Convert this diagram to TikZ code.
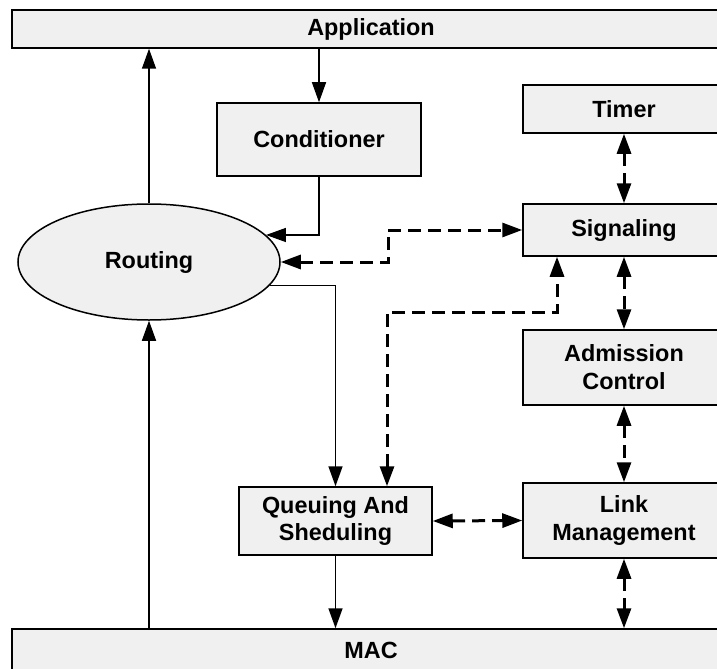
\documentclass[tikz,border=0pt]{standalone}
\usepackage{fontspec}
\setmainfont{Liberation Sans}
\usetikzlibrary{arrows.meta,calc,shapes.geometric}
\definecolor{boxgray}{HTML}{F0F0F0}
\begin{document}
\begin{tikzpicture}[x={(1bp,0bp)},y={(0bp,-1bp)},
  blk/.style={draw=black, line width=1.5bp, fill=boxgray, inner sep=0pt,
    font=\fontsize{23.5}{28}\selectfont\bfseries, align=center},
  conn/.style={line width=1.5bp, -{Triangle[length=20bp,width=14bp]}},
  dbl/.style={line width=3bp, dash pattern=on 13bp off 7bp,
    {Triangle[length=20bp,width=14bp]}-{Triangle[length=20bp,width=14bp]}}]
\useasboundingbox (0,0) rectangle (717,669);
\fill[white] (0,0) rectangle (717,669);
\clip (0,0) rectangle (717,669);

\node[blk, minimum width=718bp, minimum height=38bp] (app) at (371,29) {Application};
\node[blk, minimum width=204bp, minimum height=73bp] (cond) at (319,139.5) {Conditioner};
\node[blk, ellipse, minimum width=262bp, minimum height=116bp] (rout) at (149,262) {Routing};
\node[blk, minimum width=202bp, minimum height=48bp] (timer) at (624,109) {Timer};
\node[blk, minimum width=202bp, minimum height=52bp] (sig) at (624,230) {Signaling};
\node[blk, minimum width=202bp, minimum height=75bp] (adm) at (624,367.5) {Admission\\Control};
\node[blk, minimum width=202bp, minimum height=75bp] (link) at (624,520.5) {Link\\Management};
\node[blk, minimum width=193bp, minimum height=68bp] (que) at (335.5,521) {Queuing And\\Sheduling};
\node[blk, minimum width=718bp, minimum height=42bp] (mac) at (371,650) {MAC};

\coordinate (j1) at (388,262);
\coordinate (j2) at (470,312);

\draw[conn] (rout.north) -- (rout.north |- app.south);
\draw[conn] (cond.north |- app.south) -- (cond.north);
\draw[conn] (cond.south) |- (rout.13);
\draw[dbl] (rout.east) -- (rout.east -| j1) |- (sig.west);
\draw[conn] (rout.-11.4) -| (que.north);
\draw[dbl] ([xshift=51.5bp]que.north) |- (j2) -| ([xshift=-67bp]sig.south);
\draw[dbl] (timer.south) -- (sig.north);
\draw[dbl] (sig.south) -- (adm.north);
\draw[dbl] (adm.south) -- (link.north);
\draw[dbl] (que.east) -- (link.west);
\draw[dbl] (link.south) -- (link.south |- mac.north);
\draw[conn] (que.south) -- (que.south |- mac.north);
\draw[conn] (rout.south |- mac.north) -- (rout.south);
\end{tikzpicture}
\end{document}
